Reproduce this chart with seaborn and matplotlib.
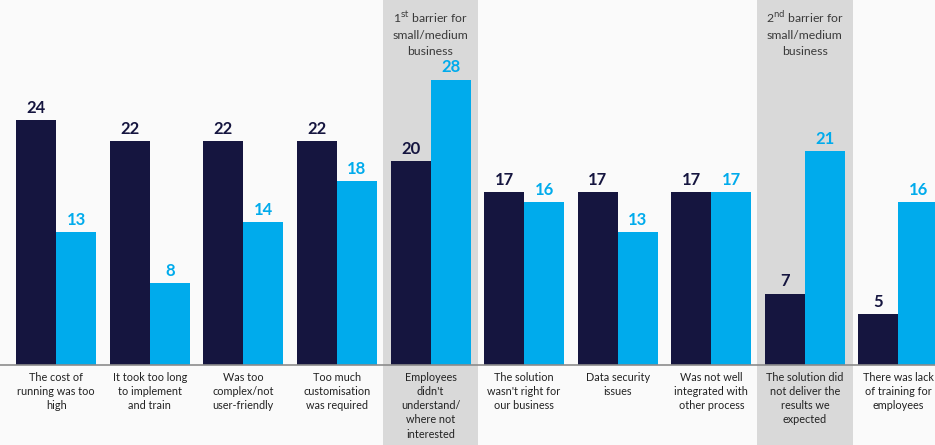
import matplotlib
matplotlib.use("Agg")
import matplotlib.pyplot as plt
from matplotlib.patches import Rectangle
import seaborn as sns
import pandas as pd

categories = [
    "The cost of\nrunning was too\nhigh",
    "It took too long\nto implement\nand train",
    "Was too\ncomplex/not\nuser-friendly",
    "Too much\ncustomisation\nwas required",
    "Employees\ndidn't\nunderstand/\nwhere not\ninterested",
    "The solution\nwasn't right for\nour business",
    "Data security\nissues",
    "Was not well\nintegrated with\nother process",
    "The solution did\nnot deliver the\nresults we\nexpected",
    "There was lack\nof training for\nemployees",
]
series_names = ["All businesses", "Small/medium business"]
values_all = [24, 22, 22, 22, 20, 17, 17, 17, 7, 5]
values_smb = [13, 8, 14, 18, 28, 16, 13, 17, 21, 16]
highlight_idx = [4, 8]
highlight_text = [r"1$^{\rm st}$ barrier for" + "\nsmall/medium\nbusiness",
                  r"2$^{\rm nd}$ barrier for" + "\nsmall/medium\nbusiness"]

colors = ["#15153f", "#00abec"]
bg = "#fafafa"

sns.set_theme(style="white")
plt.rcParams["font.family"] = ["Lato", "DejaVu Sans"]

df = pd.DataFrame({
    "category": categories * 2,
    "series": [series_names[0]] * len(categories) + [series_names[1]] * len(categories),
    "value": values_all + values_smb,
})

fig = plt.figure(figsize=(9.35, 4.45), dpi=100, facecolor=bg)
ax = fig.add_axes([0, 80 / 445, 1, 365 / 445])
ax.set_facecolor("none")

sns.barplot(data=df, x="category", y="value", hue="series", order=categories,
            hue_order=series_names, palette=colors, width=0.855, gap=0,
            saturation=1, ax=ax, legend=False, zorder=2, linewidth=0)

ax.set_xlim(-0.6, 9.39)
ax.set_ylim(0, 35.8)

for i, txt in zip(highlight_idx, highlight_text):
    ax.add_patch(Rectangle((i - 0.51, -20), 1.02, 80, facecolor="#d9d9d9",
                           edgecolor="none", clip_on=False, zorder=0))
    ax.text(i, 34.9, txt, ha="center", va="top", fontsize=8.8, color="#3a3a3a",
            linespacing=1.55, zorder=3)

for cont, col in zip(ax.containers, colors):
    ax.bar_label(cont, padding=3, fontsize=12, fontweight="bold", color=col)

ax.axhline(0, color="#8c8c8c", lw=1.2, zorder=3, clip_on=False)

for s in ax.spines.values():
    s.set_visible(False)
ax.set_yticks([])
ax.set_xlabel("")
ax.set_ylabel("")
ax.tick_params(axis="x", length=0, pad=5)
ax.set_xticks(range(len(categories)))
ax.set_xticklabels(categories, fontsize=7.8, color="#222222", linespacing=1.35,
                   va="top", ha="center")

fig.savefig("out.png", dpi=100, facecolor=bg)
